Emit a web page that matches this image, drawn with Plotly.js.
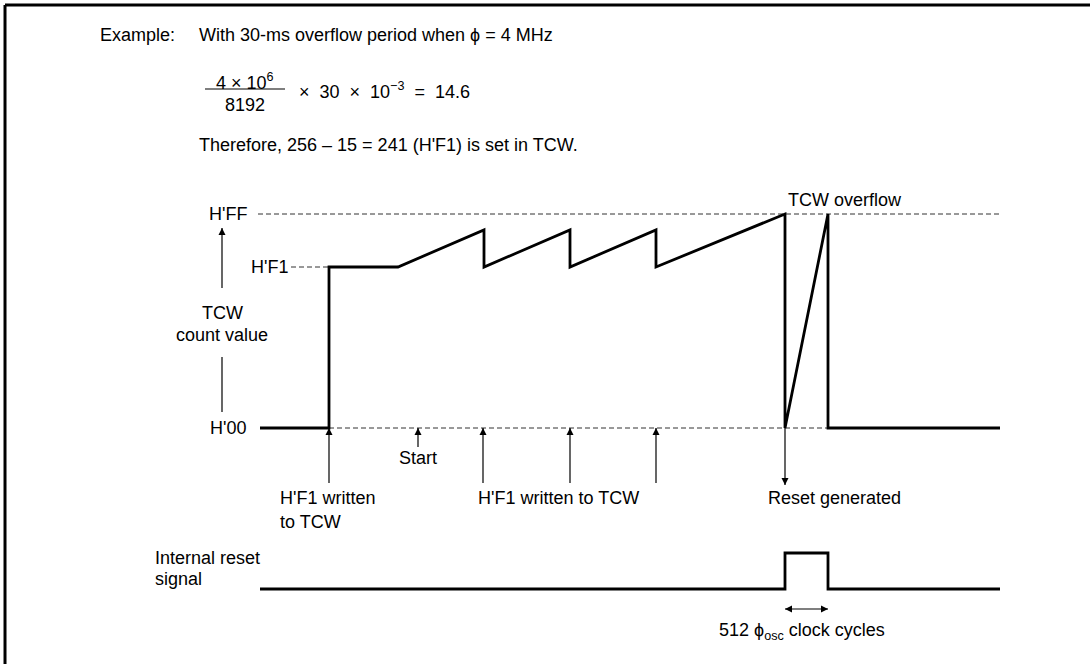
<!DOCTYPE html>
<html>
<head>
<meta charset="utf-8">
<script src="https://cdn.plot.ly/plotly-3.0.1.min.js"></script>
<style>html,body{margin:0;padding:0;background:#fff;}#chart{width:1090px;height:664px;}</style>
</head>
<body>
<div id="chart"></div>
<script>
// ---- Data (schematic time units / level units; level 0 = H'00) ----
const levelNames = ["H'00", "H'F1", "H'FF"];
const levelValues = [0, 161, 214];

// TCW count waveform
const tcwTime  = [260, 329, 329, 398, 484, 484, 570, 570, 656, 656, 785, 785, 828, 828, 1000];
const tcwCount = [0, 0, 161, 161, 198, 161, 198, 161, 198, 161, 214, 0, 214, 0, 0];

// Internal reset signal (low / high levels)
const resetTime  = [260, 785, 785, 828, 828, 1000];
const resetLevel = [-161, -161, -125, -125, -161, -161];

// Write events (upward arrows to H'00 line)
const writeTimes = [329, 483, 570, 656];
const writeArrowFrom = -55;
const startTime = 418;
const startArrowFrom = -19;
const resetGenTime = 785;
const resetArrowTo = -57;
const pulseArrowLevel = -181;

// Reference dashed levels
const dashFF = {x: [258, 1000], y: [214, 214]};
const dashF1 = {x: [291, 329], y: [161, 161]};
const dash00 = {x: [329, 828], y: [0, 0]};

const FONT = 'Liberation Sans, Arial, Helvetica, sans-serif';
const FS = 18;
const black = '#000';
const dashStyle = {color: '#333', width: 1, dash: '5px,3px'};

// build arrow shafts (segments separated by null)
const shaftX = [], shaftY = [];
function seg(x0, y0, x1, y1) { shaftX.push(x0, x1, null); shaftY.push(y0, y1, null); }
writeTimes.forEach(t => seg(t, writeArrowFrom, t, 0));
seg(startTime, startArrowFrom, startTime, 0);
seg(resetGenTime, 0, resetGenTime, resetArrowTo);
seg(222, 140, 222, 200);       // count-value axis, upper part
seg(222, 71, 222, 16);         // count-value axis, lower part
seg(785, pulseArrowLevel, 828, pulseArrowLevel);

const upHeadsX = writeTimes.concat([startTime, 222]);
const upHeadsY = writeTimes.map(() => 0).concat([0, 200]);

const traces = [
  {x: dashFF.x, y: dashFF.y, mode: 'lines', line: dashStyle, hoverinfo: 'skip'},
  {x: dashF1.x, y: dashF1.y, mode: 'lines', line: dashStyle, hoverinfo: 'skip'},
  {x: dash00.x, y: dash00.y, mode: 'lines', line: dashStyle, hoverinfo: 'skip'},
  {x: tcwTime, y: tcwCount, mode: 'lines', line: {color: black, width: 2.8}, hoverinfo: 'skip'},
  {x: resetTime, y: resetLevel, mode: 'lines', line: {color: black, width: 2.8}, hoverinfo: 'skip'},
  {x: shaftX, y: shaftY, mode: 'lines', line: {color: black, width: 1.2}, connectgaps: false, hoverinfo: 'skip'},
  {x: upHeadsX, y: upHeadsY, mode: 'markers', marker: {symbol: 'arrow-up', size: 7, color: black, line: {width: 0}}, hoverinfo: 'skip'},
  {x: [resetGenTime], y: [resetArrowTo], mode: 'markers', marker: {symbol: 'arrow-down', size: 7, color: black, line: {width: 0}}, hoverinfo: 'skip'},
  {x: [785], y: [pulseArrowLevel], mode: 'markers', marker: {symbol: 'arrow-left', size: 7, color: black, line: {width: 0}}, hoverinfo: 'skip'},
  {x: [828], y: [pulseArrowLevel], mode: 'markers', marker: {symbol: 'arrow-right', size: 7, color: black, line: {width: 0}}, hoverinfo: 'skip'}
];

function txt(x, y, text, xanchor) {
  return {x: x, y: y, xref: 'x', yref: 'y', text: text, showarrow: false,
    xanchor: xanchor || 'center', yanchor: 'middle',
    font: {family: FONT, size: FS, color: black}};
}

const annotations = [
  txt(98, 393, 'Example:', 'left'),
  txt(197, 393, 'With 30-ms overflow period when \u03d5 = 4 MHz', 'left'),
  txt(245, 347, '4 \u00d7 10<sup>6</sup>', 'center'),
  txt(245, 323, '8192', 'center'),
  txt(297, 338, '\u00d7\u00a0 30 \u00a0\u00d7\u00a0 10<sup>\u22123</sup> \u00a0=\u00a0 14.6', 'left'),
  txt(197, 283, 'Therefore, 256 \u2013 15 = 241 (H\'F1) is set in TCW.', 'left'),
  txt(786, 228, 'TCW overflow', 'left'),
  txt(249, levelValues[2], levelNames[2], 'right'),
  txt(290, levelValues[1], levelNames[1], 'right'),
  txt(248, levelValues[0], levelNames[0], 'right'),
  txt(222, 115, 'TCW', 'center'),
  txt(222, 93, 'count value', 'center'),
  txt(startTime, -30, 'Start', 'center'),
  txt(278, -70, 'H\'F1 written', 'left'),
  txt(278, -94, 'to TCW', 'left'),
  txt(558, -70, 'H\'F1 written to TCW', 'center'),
  txt(834, -70, 'Reset generated', 'center'),
  txt(153, -130, 'Internal reset', 'left'),
  txt(153, -151, 'signal', 'left'),
  txt(802, -203, '512 \u03d5<sub>osc</sub> clock cycles', 'center')
];

const shapes = [
  // fraction bar
  {type: 'line', xref: 'x', yref: 'y', x0: 205, x1: 285, y0: 339, y1: 339, line: {color: black, width: 1.2}},
  // frame (left and top edges)
  {type: 'line', xref: 'paper', yref: 'paper', x0: 0.0046, x1: 0.0046, y0: 0, y1: 0.9925, line: {color: black, width: 3}},
  {type: 'line', xref: 'paper', yref: 'paper', x0: 0.0046, x1: 1, y0: 0.9925, y1: 0.9925, line: {color: black, width: 3}}
];

const layout = {
  width: 1090, height: 664,
  margin: {l: 0, r: 0, t: 0, b: 0},
  paper_bgcolor: '#fff', plot_bgcolor: '#fff',
  showlegend: false,
  xaxis: {range: [0, 1090], visible: false, fixedrange: true},
  yaxis: {range: [-236, 428], visible: false, fixedrange: true},
  annotations: annotations,
  shapes: shapes,
  font: {family: FONT, size: FS, color: black}
};

Plotly.newPlot('chart', traces, layout, {staticPlot: true, displayModeBar: false});
</script>
</body>
</html>
